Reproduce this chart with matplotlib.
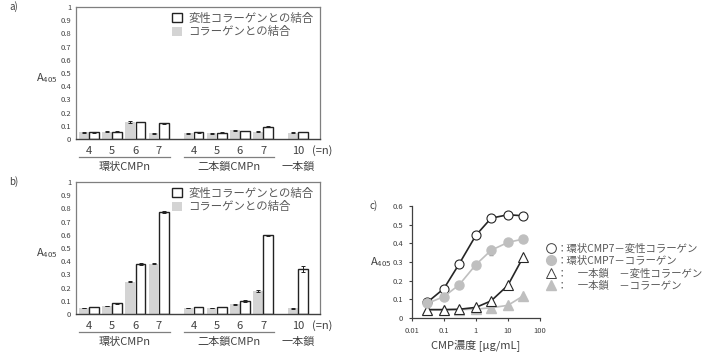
import matplotlib.pyplot as plt
import numpy as np
from matplotlib import transforms
from matplotlib.lines import Line2D

plt.rcParams['font.family'] = ['Noto Sans CJK JP', 'DejaVu Sans']

# bar panels a) and b)
n_labels = ['4', '5', '6', '7', '4', '5', '6', '7', '10']
group_sizes = [4, 4, 1]
group_names = ['環状CMPn', '二本鎖CMPn', '一本鎖']
legend_labels = ['変性コラーゲンとの結合', 'コラーゲンとの結合']

a_gray = [0.050, 0.055, 0.130, 0.045, 0.045, 0.045, 0.065, 0.055, 0.048]
a_gray_err = [0.004, 0.004, 0.006, 0.004, 0.004, 0.004, 0.004, 0.004, 0.004]
a_white = [0.050, 0.055, 0.128, 0.118, 0.050, 0.048, 0.060, 0.093, 0.052]
a_white_err = [0.002, 0.002, 0.002, 0.002, 0.002, 0.002, 0.002, 0.002, 0.002]

b_gray = [0.045, 0.060, 0.245, 0.382, 0.045, 0.045, 0.073, 0.173, 0.043]
b_gray_err = [0.003, 0.003, 0.004, 0.005, 0.003, 0.003, 0.003, 0.005, 0.003]
b_white = [0.052, 0.080, 0.378, 0.772, 0.052, 0.052, 0.096, 0.598, 0.338]
b_white_err = [0.002, 0.002, 0.008, 0.005, 0.002, 0.002, 0.008, 0.004, 0.022]

# panel c)
conc = [0.03, 0.1, 0.3, 1, 3, 10, 30]
cyc_denat = [0.084, 0.158, 0.290, 0.443, 0.535, 0.553, 0.548]
cyc_coll = [0.078, 0.115, 0.178, 0.286, 0.363, 0.405, 0.423]
cyc_coll_err = [0.0, 0.0, 0.0, 0.008, 0.025, 0.010, 0.0]
single_denat = [0.045, 0.045, 0.047, 0.057, 0.092, 0.175, 0.325]
single_coll = [0.045, 0.045, 0.045, 0.048, 0.055, 0.068, 0.118]
c_labels = ['：環状CMP7－変性コラーゲン', '：環状CMP7－コラーゲン',
            '：　一本鎖　－変性コラーゲン', '：　一本鎖　－コラーゲン']

GRAY = '#d4d4d4'
TXT = '#404040'

# pair centres: step 1 inside a group, 1.5 between groups
xs = []
pos = 0.0
for gi, size in enumerate(group_sizes):
    for k in range(size):
        xs.append(pos)
        pos += 1
    pos += 0.5
xs = np.array(xs)

fig = plt.figure(figsize=(7.02, 3.53), dpi=100)


def bar_panel(rect, gray, gray_err, white, white_err, tag):
    ax = fig.add_axes(rect)
    w = 0.42
    ax.bar(xs - 0.22, gray, w, color=GRAY, yerr=gray_err, capsize=1.5,
           error_kw=dict(ecolor='#222222', elinewidth=0.7, capthick=0.7),
           label=legend_labels[1], zorder=2)
    ax.bar(xs + 0.22, white, w, color='white', edgecolor='#222222', linewidth=1.0,
           yerr=white_err, capsize=1.5,
           error_kw=dict(ecolor='#222222', elinewidth=0.7, capthick=0.7),
           label=legend_labels[0], zorder=2)
    ax.set_xlim(-0.56, 9.95)
    ax.set_ylim(0, 1)
    ax.set_yticks(np.arange(0, 1.01, 0.1))
    ax.set_yticklabels(['0'] + ['%.1f' % v for v in np.arange(0.1, 0.95, 0.1)] + ['1'])
    ax.tick_params(axis='y', length=0, labelsize=5.5, labelcolor=TXT, pad=3.5)
    ax.set_xticks(xs)
    ax.set_xticklabels(n_labels)
    ax.tick_params(axis='x', length=0, labelsize=8, labelcolor=TXT, pad=5)
    for s in ['left', 'top', 'right']:
        ax.spines[s].set_color('#7f7f7f')
        ax.spines[s].set_linewidth(0.9)
    ax.spines['bottom'].set_color('#404040')
    ax.spines['bottom'].set_linewidth(1.0)

    tr = transforms.blended_transform_factory(ax.transData, ax.transAxes)
    ax.text(10.05, -0.09, '(=n)', transform=tr, ha='center', va='center',
            fontsize=8, color=TXT)
    start = 0
    for gi, size in enumerate(group_sizes):
        x0, x1 = xs[start], xs[start + size - 1]
        if size > 1:
            ax.plot([x0 - 0.42, x1 + 0.48], [-0.136, -0.136], transform=tr,
                    color='#7f7f7f', lw=0.9, clip_on=False)
        ax.text((x0 + x1) / 2 + 0.03, -0.215, group_names[gi], transform=tr,
                ha='center', va='center', fontsize=8, color=TXT)
        start += size

    ax.text(-0.12, 0.46, r'A$_{\mathregular{405}}$', transform=ax.transAxes,
            ha='center', va='center', fontsize=8, color=TXT)
    ax.text(-0.255, 1.0, tag, transform=ax.transAxes, ha='center', va='center',
            fontsize=7, color=TXT)

    h, l = ax.get_legend_handles_labels()
    ax.legend(h[::-1], l[::-1], loc='upper right', bbox_to_anchor=(1.0, 1.01),
              frameon=False, fontsize=8.2, handlelength=0.9, handleheight=0.9,
              handletextpad=0.5, labelspacing=0.25, labelcolor='#595959',
              borderaxespad=0.2)
    return ax


bar_panel([0.1083, 0.6062, 0.3476, 0.374], a_gray, a_gray_err, a_white, a_white_err, 'a)')
bar_panel([0.1083, 0.1105, 0.3476, 0.374], b_gray, b_gray_err, b_white, b_white_err, 'b)')

# panel c
axc = fig.add_axes([0.5869, 0.099, 0.182, 0.3174])
ms = 6.5
axc.plot(conc, single_coll, '-^', color='#bfbfbf', lw=1.2, ms=ms, mec='#bfbfbf', mfc='#bfbfbf')
axc.errorbar(conc, cyc_coll, yerr=cyc_coll_err, fmt='-o', color='#bfbfbf', lw=1.2, ms=ms,
             mec='#bfbfbf', mfc='#bfbfbf', ecolor='#8c8c8c', elinewidth=0.7, capsize=1.5)
axc.plot(conc, single_denat, '-^', color='#262626', lw=1.2, ms=ms, mec='#262626', mfc='white',
         mew=0.8)
axc.plot(conc, cyc_denat, '-o', color='#262626', lw=1.2, ms=ms, mec='#262626', mfc='white',
         mew=0.8)
axc.set_xscale('log')
axc.set_xlim(0.01, 100)
axc.set_ylim(0, 0.6)
axc.set_yticks(np.arange(0, 0.61, 0.1))
axc.set_yticklabels(['0'] + ['%.1f' % v for v in np.arange(0.1, 0.65, 0.1)])
axc.set_xticks([0.01, 0.1, 1, 10, 100])
axc.set_xticklabels(['0.01', '0.1', '1', '10', '100'])
axc.xaxis.set_minor_locator(plt.NullLocator())
axc.tick_params(labelsize=5.5, labelcolor=TXT, length=2.5, width=0.8, color='#404040', pad=4)
for s in ['top', 'right']:
    axc.spines[s].set_visible(False)
for s in ['left', 'bottom']:
    axc.spines[s].set_color('#404040')
    axc.spines[s].set_linewidth(0.9)
axc.set_xlabel('CMP濃度 [μg/mL]', fontsize=8, color=TXT, labelpad=3)
axc.text(-0.245, 0.5, r'A$_{\mathregular{405}}$', transform=axc.transAxes,
         ha='center', va='center', fontsize=8, color=TXT)
axc.text(-0.3, 1.0, 'c)', transform=axc.transAxes, ha='center', va='center',
         fontsize=7, color=TXT)

handles = [
    Line2D([], [], ls='none', marker='o', ms=7, mfc='white', mec='#404040', mew=0.7),
    Line2D([], [], ls='none', marker='o', ms=7, mfc='#bfbfbf', mec='#bfbfbf'),
    Line2D([], [], ls='none', marker='^', ms=7, mfc='white', mec='#404040', mew=0.7),
    Line2D([], [], ls='none', marker='^', ms=7, mfc='#bfbfbf', mec='#bfbfbf'),
]
fig.legend(handles, c_labels, loc='upper left', bbox_to_anchor=(0.772, 0.322),
           frameon=False, fontsize=7.5, handlelength=1.0, handletextpad=0.0,
           labelspacing=0.22, labelcolor='#595959', borderaxespad=0)

fig.savefig('out.png', dpi=100)
